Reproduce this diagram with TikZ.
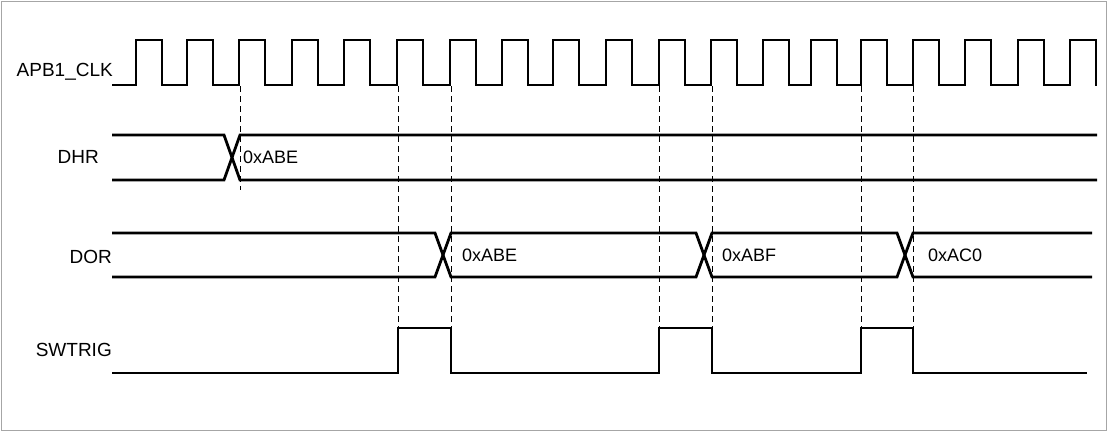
\documentclass[tikz,border=0pt]{standalone}
\usepackage{fontspec}
\setmainfont{Liberation Sans}
\begin{document}
\begin{tikzpicture}[x=1pt,y=-1pt,
  sig/.style={line width=2.8pt,line join=miter},
  guide/.style={line width=1pt,dash pattern=on 6pt off 4pt},
  lbl/.style={font=\fontsize{19}{22}\selectfont,inner sep=0pt},
  val/.style={font=\fontsize{18}{21}\selectfont,inner sep=0pt,anchor=west}]
\useasboundingbox (0,0) rectangle (1108,432);
\draw[gray!70,line width=1pt] (1,1) rectangle (1106,430);
% labels
\node[lbl,anchor=east] (lclk) at (113,72) {APB1\_CLK};
\node[lbl,anchor=east] (ldhr) at (99,157) {DHR};
\node[lbl,anchor=east] (ldor) at (112,257) {DOR};
\node[lbl,anchor=east] (lsw) at (112,350) {SWTRIG};
% clock
\draw[sig,line width=2.4pt] (112,85)
 \foreach \r in {136,187,239,292,344,397,450,502,553,606,659,711,763,811,861,913,965,1018,1070}{
   -- (\r,85) -- (\r,40) -- (\r+26,40) -- (\r+26,85)} -- (1097,85);
% DHR
\draw[sig] (112,135) -- (224,135) -- (240,180) -- (1097,180);
\draw[sig] (112,180) -- (224,180) -- (240,135) -- (1097,135);
\node[val] (v0) at (243,157) {0xABE};
% DOR
\draw[sig] (112,233) -- (435,233) -- (451,277) -- (696,277) -- (712,233) -- (897,233) -- (913,277) -- (1092,277);
\draw[sig] (112,277) -- (435,277) -- (451,233) -- (696,233) -- (712,277) -- (897,277) -- (913,233) -- (1092,233);
\node[val] (v1) at (462,255) {0xABE};
\node[val] (v2) at (722,255) {0xABF};
\node[val] (v3) at (928,255) {0xAC0};
% SWTRIG
\draw[sig] (112,373) -- (398,373) -- (398,328) -- (451,328) -- (451,373) -- (659,373) -- (659,328) -- (712,328) -- (712,373) -- (861,373) -- (861,328) -- (913,328) -- (913,373) -- (1087,373);
% guides
\draw[guide] (240,86) -- (240,190);
\foreach \x in {398,451,659,712,861,913}{\draw[guide] (\x,86) -- (\x,372);}
\end{tikzpicture}
\end{document}
